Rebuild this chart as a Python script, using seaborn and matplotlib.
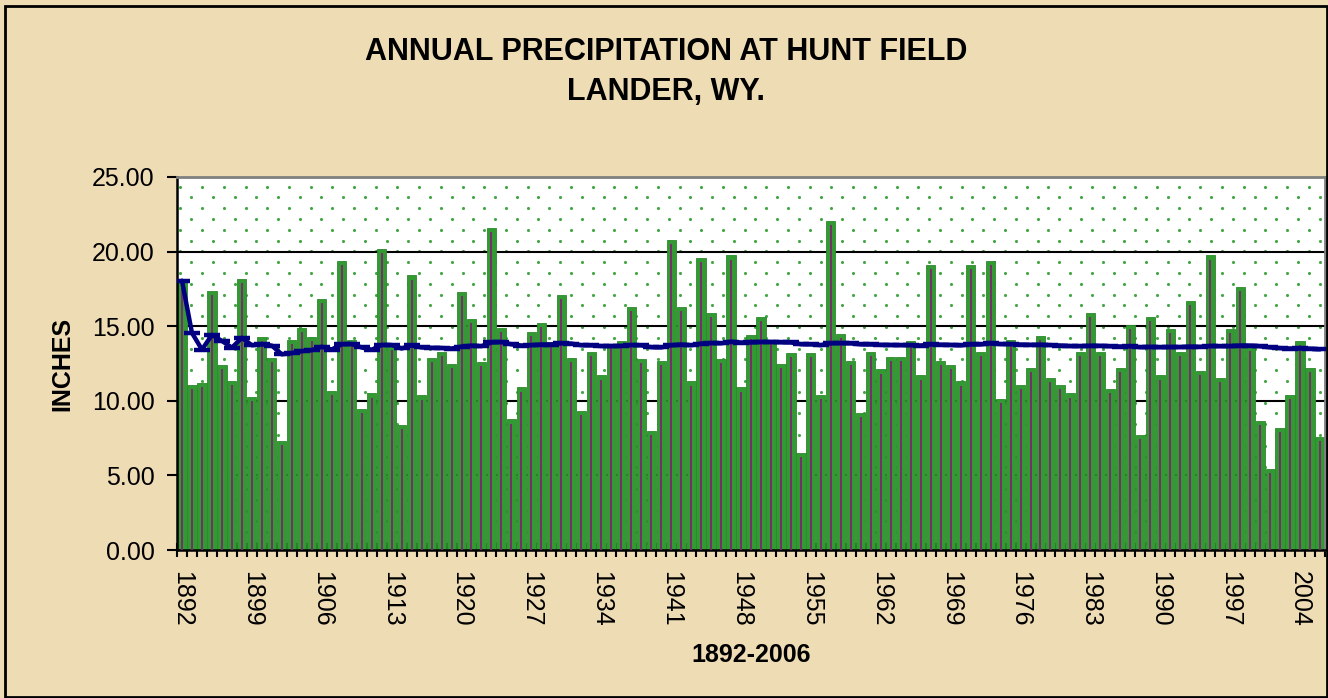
import numpy as np
import pandas as pd
import matplotlib
matplotlib.use("Agg")
import matplotlib.pyplot as plt
from matplotlib.patches import Rectangle
import seaborn as sns

# ---------------- data ----------------
years = list(range(1892, 2007))
inches = [
    18.05, 11.05, 11.20, 17.37, 12.39, 11.32, 18.15, 10.25, 14.29, 12.90,   # 1892-1901
    7.30, 14.10, 14.90, 14.26, 16.83, 10.65, 19.35, 14.10, 9.44, 10.50,     # 1902-1911
    20.16, 13.70, 8.37, 18.40, 10.36, 12.90, 13.30, 12.50, 17.30, 15.50,    # 1912-1921
    12.60, 21.60, 14.90, 8.75, 10.90, 14.60, 15.20, 13.95, 17.08, 12.90,    # 1922-1931
    9.33, 13.30, 11.70, 13.80, 14.00, 16.30, 12.80, 7.97, 12.66, 20.80,     # 1932-1941
    16.30, 11.30, 19.60, 15.90, 12.80, 19.75, 10.90, 14.40, 15.60, 14.10,   # 1942-1951
    12.50, 13.20, 6.50, 13.20, 10.40, 22.05, 14.50, 12.70, 9.20, 13.30,     # 1952-1961
    12.10, 12.95, 12.95, 14.00, 11.70, 19.10, 12.70, 12.40, 11.30, 19.10,   # 1962-1971
    13.30, 19.35, 10.10, 14.10, 11.05, 12.20, 14.35, 11.56, 11.05, 10.50,   # 1972-1981
    13.30, 15.90, 13.30, 10.80, 12.20, 15.07, 7.70, 15.60, 11.70, 14.80,    # 1982-1991
    13.30, 16.70, 12.00, 19.75, 11.56, 14.80, 17.63, 13.60, 8.66, 5.42,     # 1992-2001
    8.20, 10.40, 14.00, 12.20, 7.60,                                        # 2002-2006
]
y_ticks = [0, 5, 10, 15, 20, 25]
title_lines = ["ANNUAL PRECIPITATION AT HUNT FIELD", "LANDER, WY."]
x_title = "1892-2006"
y_title = "INCHES"

df = pd.DataFrame({"year": [str(y) for y in years], "inches": inches})
# running (cumulative) average of annual precipitation, as plotted in the chart
df["running"] = df["inches"].expanding().mean()
n = len(df)
pos = np.arange(n)

# ---------------- style ----------------
sns.set_style("white")
plt.rcParams["font.family"] = ["Liberation Sans", "DejaVu Sans"]
for k in ["text.color", "axes.labelcolor", "xtick.color", "ytick.color"]:
    plt.rcParams[k] = "black"

W, H = 1328, 698
fig = plt.figure(figsize=(W / 100, H / 100), dpi=100)
fig.patch.set_facecolor("#EEDCB5")

L, R, T, B = 177, 1325, 177, 550
ax = fig.add_axes([L / W, 1 - B / H, (R - L) / W, (B - T) / H])
ax.set_facecolor("white")

# dotted background pattern (decoration)
dx = 21.7 / (R - L)
dy = 10.8 / (B - T)
rows = np.arange(1 - 9.5 / (B - T), 0, -dy)
px, py = [], []
for k, yy in enumerate(rows):
    off = 0.0 if k % 2 == 0 else dx / 2
    xs = np.arange(off + 0.003, 1, dx)
    px.extend(xs)
    py.extend([yy] * len(xs))
ax.scatter(px, py, s=5, color="#43A843", transform=ax.transAxes,
           zorder=0.2, linewidths=0)

# bars
sns.barplot(data=df, x="year", y="inches", color="#339A33", saturation=1,
            width=0.92, edgecolor="#2C8A2C", linewidth=0.6, ax=ax, zorder=2,
            errorbar=None)
# purple center line inside each bar
ax.vlines(pos, 0, df["inches"] - 0.28, color="#7E2470", lw=1.3, zorder=3)

# running average line
sns.lineplot(x=pos, y=df["running"].values, ax=ax, color="#000080", lw=3.2,
             marker="_", markersize=11, markeredgewidth=3.2,
             markeredgecolor="#000080", sort=False, zorder=5)

# axes
ax.set_xlim(-0.5, n - 0.5)
ax.set_ylim(0, 25)
ax.set_yticks(y_ticks)
ax.set_yticklabels([f"{v:.2f}" for v in y_ticks], fontsize=18)
ax.yaxis.grid(True, color="black", lw=1.5)
ax.xaxis.grid(False)
ax.set_axisbelow(True)
ax.tick_params(axis="y", direction="out", length=7.2, width=1.5, color="black",
               pad=9, left=True)

major = list(range(0, n, 7))
ax.set_xticks(major)
ax.set_xticklabels([str(years[i]) for i in major], rotation=270, fontsize=18)
ax.set_xticks(np.arange(-0.5, n, 1.0), minor=True)
ax.tick_params(axis="x", which="major", length=0, pad=15)
ax.tick_params(axis="x", which="minor", direction="inout", length=10,
               width=1.5, color="black", bottom=True)

for s in ["left", "bottom"]:
    ax.spines[s].set_color("black")
    ax.spines[s].set_linewidth(1.8)
for s in ["top", "right"]:
    ax.spines[s].set_color("#808080")
    ax.spines[s].set_linewidth(2)

ax.set_ylabel(y_title, fontsize=18, fontweight="bold")
ax.yaxis.set_label_coords((62 - L) / (R - L), 0.5)
ax.yaxis.label.set_va("center")
ax.set_xlabel(x_title, fontsize=18, fontweight="bold")
ax.xaxis.set_label_coords(0.5, -(655 - B) / (B - T))
ax.xaxis.label.set_va("center")

# title
fig.text(666 / W, 1 - 60 / H, title_lines[0], ha="center", va="baseline",
         fontsize=22, fontweight="bold")
fig.text(666 / W, 1 - 100 / H, title_lines[1], ha="center", va="baseline",
         fontsize=22, fontweight="bold")

# outer border
fig.add_artist(Rectangle((5 / W, 1 / H), (W - 6) / W, (H - 7) / H,
                         transform=fig.transFigure, fill=False,
                         edgecolor="black", lw=2))

fig.savefig("out.png", dpi=100, facecolor=fig.get_facecolor())
